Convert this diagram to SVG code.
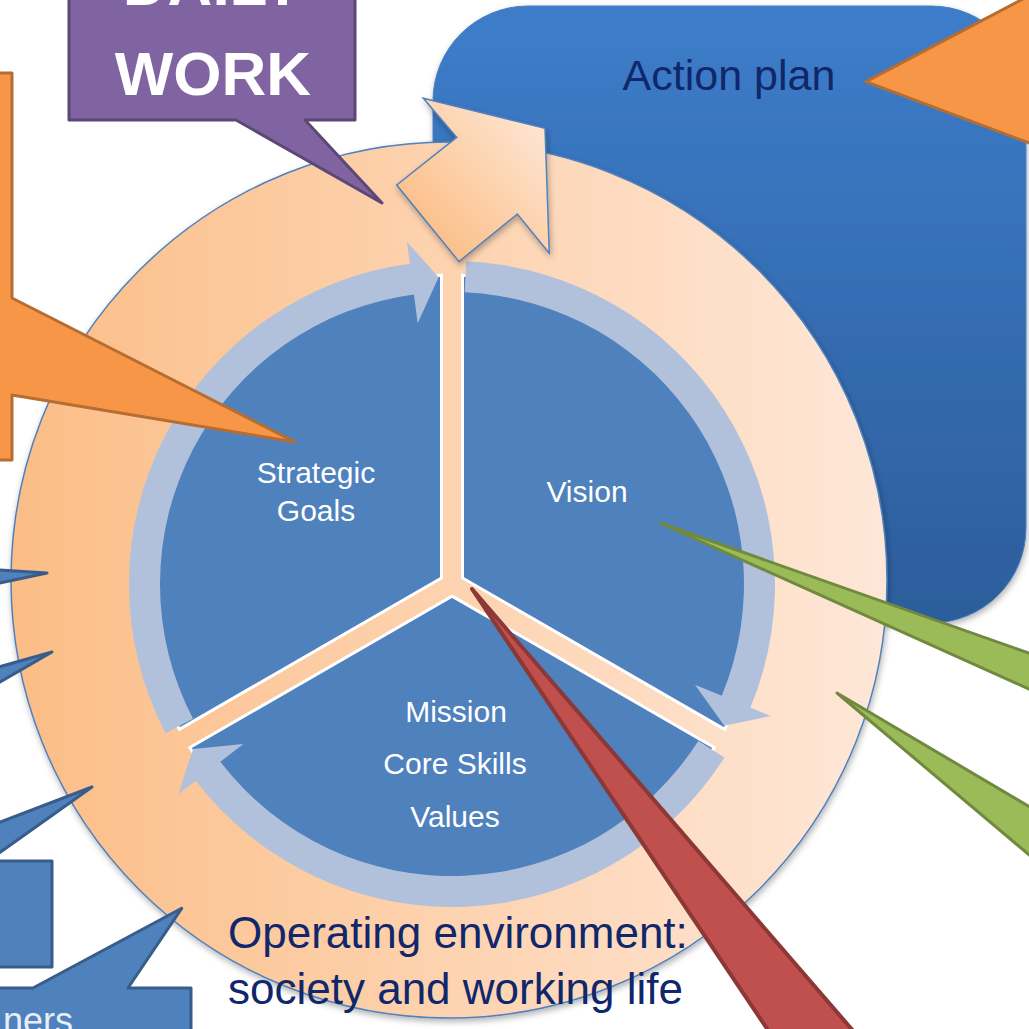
<svg xmlns="http://www.w3.org/2000/svg" width="1029" height="1029" viewBox="0 0 1029 1029">
<defs>
<linearGradient id="gRing" x1="0" y1="0" x2="1" y2="0">
<stop offset="0" stop-color="#fbbd86"/>
<stop offset="0.5" stop-color="#fdd3b0"/>
<stop offset="1" stop-color="#fee7d8"/>
</linearGradient>
<linearGradient id="gPlan" x1="0" y1="0" x2="0" y2="1">
<stop offset="0" stop-color="#3d7dca"/>
<stop offset="1" stop-color="#2c5d9b"/>
</linearGradient>
<linearGradient id="gDaily" x1="0" y1="1" x2="1" y2="0">
<stop offset="0.1" stop-color="#fbbb80"/>
<stop offset="0.9" stop-color="#fee5d3"/>
</linearGradient>
<filter id="shadow" x="-10%" y="-10%" width="120%" height="120%">
<feDropShadow dx="1" dy="3" stdDeviation="3" flood-color="#000" flood-opacity="0.3"/>
</filter>
<style>
.sector{fill:#4f81bd;stroke:#ffffff;stroke-width:3}
.cyc{fill:#b1c1dc}
.blueCall{fill:#4f81bd;stroke:#385d8a;stroke-width:3;stroke-linejoin:round}
.orangeCall{fill:#f79646;stroke:#b66d31;stroke-width:3;stroke-linejoin:round}
.greenCall{fill:#9bbb59;stroke:#71893f;stroke-width:3;stroke-linejoin:round}
.redCall{fill:#c0504d;stroke:#8c3836;stroke-width:4;stroke-linejoin:round}
.purpleCall{fill:#8064a2;stroke:#5c4776;stroke-width:3;stroke-linejoin:round}
.lbl{font-family:"Liberation Sans","DejaVu Sans",sans-serif;fill:#ffffff;font-size:30px;text-anchor:middle}
.dark{font-family:"Liberation Sans","DejaVu Sans",sans-serif;fill:#10276b;font-size:44px}
</style>
</defs>

<g id="action-plan">
<rect x="433" y="6" width="593" height="617" rx="95" ry="95" fill="url(#gPlan)" stroke="#4a7fc0" stroke-width="1" filter="url(#shadow)"/>
<text class="dark" x="729" y="90" text-anchor="middle" style="font-size:43px">Action plan</text>
</g>

<g id="operating-environment">
<circle cx="449" cy="580" r="438" fill="url(#gRing)" stroke="#4f81bd" stroke-width="1.5" filter="url(#shadow)"/>
</g>

<g id="sectors">
<g id="vision">
<path class="sector" d="M462.5,577.94 L462.5,275.18 A309,309 0 0 1 724.70,729.32 Z"/>
</g>
<g id="mission">
<path class="sector" transform="rotate(120 452 584)" d="M462.5,577.94 L462.5,275.18 A309,309 0 0 1 724.70,729.32 Z"/>
</g>
<g id="strategic-goals">
<path class="sector" transform="rotate(240 452 584)" d="M462.5,577.94 L462.5,275.18 A309,309 0 0 1 724.70,729.32 Z"/>
</g>
</g>

<g id="connectors">
<path class="cyc" d="M466.09,261.31 A323,323 0 0 1 750.41,707.61 L770.74,716.03 L724.31,725.76 L694.98,684.65 L721.77,695.74 A292,292 0 0 0 464.74,292.28 Z"/>
<path class="cyc" transform="rotate(120 452 584)" d="M466.09,261.31 A323,323 0 0 1 750.41,707.61 L770.74,716.03 L724.31,725.76 L694.98,684.65 L721.77,695.74 A292,292 0 0 0 464.74,292.28 Z"/>
<path class="cyc" transform="rotate(240 452 584)" d="M466.09,261.31 A323,323 0 0 1 750.41,707.61 L770.74,716.03 L724.31,725.76 L694.98,684.65 L721.77,695.74 A292,292 0 0 0 464.74,292.28 Z"/>
</g>

<g id="labels">
<text class="lbl" x="316" y="483">Strategic</text>
<text class="lbl" x="316" y="521">Goals</text>
<text class="lbl" x="587" y="502">Vision</text>
<text class="lbl" x="456" y="722">Mission</text>
<text class="lbl" x="455" y="774">Core Skills</text>
<text class="lbl" x="455" y="827">Values</text>
<text class="dark" x="228" y="948">Operating environment:</text>
<text class="dark" x="228" y="1004">society and working life</text>
</g>

<g id="daily-arrow">
<polygon points="423.3,98.3 545,128.3 549.3,253.3 517.3,214 459,261.7 396.7,185 456.7,137.3" fill="url(#gDaily)" stroke="#4f81bd" stroke-width="1.5" stroke-linejoin="miter" filter="url(#shadow)"/>
</g>

<g id="daily-work">
<path class="purpleCall" d="M69,-10 L355,-10 L355,120 L305,120 L382,203 L236,120 L69,120 Z"/>
<text x="213" y="5" font-family="'Liberation Sans','DejaVu Sans',sans-serif" font-weight="bold" font-size="62" fill="#ffffff" text-anchor="middle">DAILY</text>
<text x="213" y="95" font-family="'Liberation Sans','DejaVu Sans',sans-serif" font-weight="bold" font-size="62" fill="#ffffff" text-anchor="middle">WORK</text>
</g>

<g id="orange-left">
<path class="orangeCall" d="M-10,73 L12,73 L12,298 L295,442 L12,395 L12,460 L-10,460 Z"/>
</g>

<g id="orange-right">
<polygon class="orangeCall" points="866,81.7 1040,-10 1040,147"/>
</g>

<g id="green-1">
<polygon class="greenCall" points="660,523 1040,657 1040,694"/>
</g>
<g id="green-2">
<polygon class="greenCall" points="837,693 1040,813 1040,864"/>
</g>

<g id="red-callout">
<polygon class="redCall" points="472,589 861,1040 774.6,1040"/>
</g>

<g id="blue-left-1">
<polygon class="blueCall" points="-5,569.7 47,573 -5,584"/>
</g>
<g id="blue-left-2">
<polygon class="blueCall" points="-5,668 52,652 -5,685"/>
</g>
<g id="blue-left-3">
<polygon class="blueCall" points="-5,824 92,787 -5,856"/>
</g>
<g id="blue-box">
<rect class="blueCall" x="-10" y="861" width="62" height="106"/>
</g>
<g id="partners">
<path class="blueCall" d="M-10,988 L33,988 L181.7,908.3 L128,988 L191,988 L191,1040 L-10,1040 Z"/>
<text x="3" y="1033" font-family="'Liberation Sans','DejaVu Sans',sans-serif" font-size="36" fill="#e8eef7">ners</text>
</g>
</svg>
